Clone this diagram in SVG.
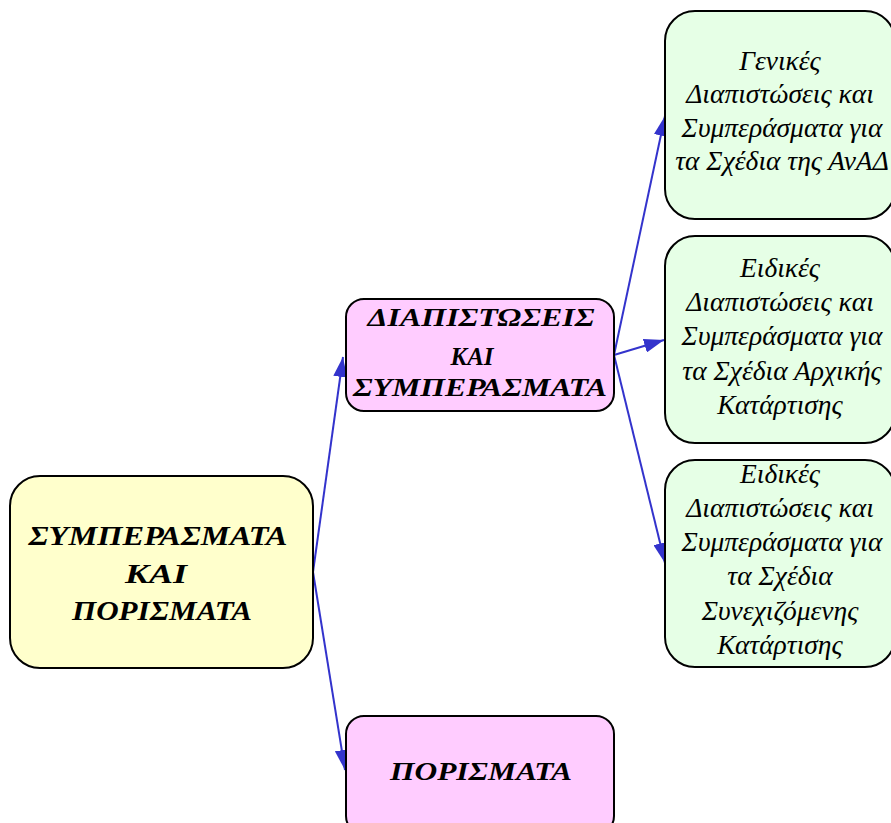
<svg xmlns="http://www.w3.org/2000/svg" width="891" height="823" viewBox="0 0 891 823">
<defs>
<marker id="ah" viewBox="0 0 20 14" refX="20" refY="7" markerWidth="20" markerHeight="14" markerUnits="userSpaceOnUse" orient="auto">
<path d="M0,0 L20,7 L0,14 Z" fill="#3333CC"/>
</marker>
<style>
.box{stroke:#000;stroke-width:2}
.y{fill:#FFFFCC}.p{fill:#FFCCFF}.g{fill:#E6FFE6}
.edge{stroke:#3333CC;stroke-width:2;fill:none;marker-end:url(#ah)}
.cap{font-family:"Liberation Serif","DejaVu Serif",serif;font-style:italic;font-weight:bold;text-anchor:middle;fill:#000}
.low{font-family:"Liberation Serif","DejaVu Serif",serif;font-style:italic;font-size:27.5px;text-anchor:middle;fill:#000}
</style>
</defs>
<rect width="891" height="823" fill="#fff"/>
<g id="connectors">
<path class="edge" d="M313,572 L343,357"/>
<path class="edge" d="M313,572 L345,770"/>
<path class="edge" d="M614,355 L665,116"/>
<path class="edge" d="M614,355 L664,340"/>
<path class="edge" d="M614,355 L665,563"/>
</g>
<g id="root">
<rect class="box y" x="10" y="476" width="303" height="192" rx="30"/>
<text class="cap" font-size="28"><tspan x="158" y="545" textLength="259" lengthAdjust="spacingAndGlyphs">ΣΥΜΠΕΡΑΣΜΑΤΑ</tspan><tspan x="156" y="583" textLength="62" lengthAdjust="spacingAndGlyphs">ΚΑΙ</tspan><tspan x="162" y="620" textLength="180" lengthAdjust="spacingAndGlyphs">ΠΟΡΙΣΜΑΤΑ</tspan></text>
</g>
<g id="diapistoseis">
<rect class="box p" x="346" y="299" width="268" height="112" rx="18"/>
<text class="cap" font-size="25"><tspan x="481" y="326" textLength="227" lengthAdjust="spacingAndGlyphs">ΔΙΑΠΙΣΤΩΣΕΙΣ</tspan><tspan x="472" y="365" textLength="43" lengthAdjust="spacingAndGlyphs">ΚΑΙ</tspan><tspan x="480" y="396" textLength="254" lengthAdjust="spacingAndGlyphs">ΣΥΜΠΕΡΑΣΜΑΤΑ</tspan></text>
</g>
<g id="porismata">
<rect class="box p" x="346" y="716" width="268" height="118" rx="18"/>
<text class="cap" font-size="26" x="481" y="780" textLength="182" lengthAdjust="spacingAndGlyphs">ΠΟΡΙΣΜΑΤΑ</text>
</g>
<g id="genikes">
<rect class="box g" x="665" y="11" width="230" height="208" rx="30"/>
<text class="low"><tspan x="780" y="70">Γενικές</tspan><tspan x="780" y="103">Διαπιστώσεις και</tspan><tspan x="782" y="137">Συμπεράσματα για</tspan><tspan x="782" y="170">τα Σχέδια της ΑνΑΔ</tspan></text>
</g>
<g id="eidikes1">
<rect class="box g" x="665" y="236" width="230" height="207" rx="30"/>
<text class="low"><tspan x="780" y="277">Ειδικές</tspan><tspan x="780" y="311">Διαπιστώσεις και</tspan><tspan x="782" y="345">Συμπεράσματα για</tspan><tspan x="782" y="380">τα Σχέδια Αρχικής</tspan><tspan x="780" y="414">Κατάρτισης</tspan></text>
</g>
<g id="eidikes2">
<rect class="box g" x="665" y="460" width="230" height="207" rx="30"/>
<text class="low"><tspan x="780" y="483">Ειδικές</tspan><tspan x="780" y="517">Διαπιστώσεις και</tspan><tspan x="782" y="551">Συμπεράσματα για</tspan><tspan x="780" y="585">τα Σχέδια</tspan><tspan x="780" y="620">Συνεχιζόμενης</tspan><tspan x="780" y="654">Κατάρτισης</tspan></text>
</g>
</svg>
